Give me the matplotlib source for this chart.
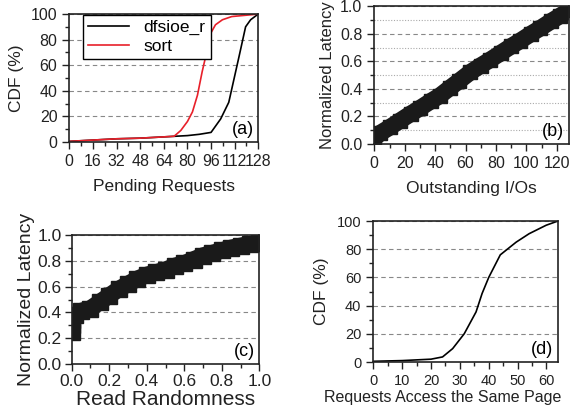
import numpy as np
import matplotlib
matplotlib.use("Agg")
import matplotlib.pyplot as plt
from matplotlib.ticker import MultipleLocator

plt.rcParams['font.family'] = ['Liberation Sans', 'DejaVu Sans']

# (a) CDF of pending requests
pend_x_dfs = [0, 16, 32, 48, 64, 80, 88, 96, 102.5, 108, 115, 119.4, 122.8, 128]
pend_y_dfs = [0.5, 1.5, 2.5, 3, 4, 5, 6, 7.5, 18, 31, 67, 90, 95.5, 100]
pend_x_sort = [0, 16, 32, 48, 64, 71, 75.5, 80, 83.4, 86.8, 90, 92.4, 95.8, 99, 103.7, 110, 124, 128]
pend_y_sort = [0.5, 1.5, 2.5, 3, 4, 4.5, 9, 16, 23.5, 36.6, 55, 67, 85, 91.6, 95.5, 98, 99.5, 100]

# (b) normalized latency vs outstanding I/Os
oio_x = [0, 4, 10, 17, 24, 30, 37, 43, 50, 56, 63, 70, 76, 83, 90, 96, 103, 109, 116, 122, 128]
oio_y = [0.04, 0.08, 0.12, 0.17, 0.22, 0.26, 0.31, 0.35, 0.41, 0.46, 0.52, 0.57, 0.61,
         0.66, 0.71, 0.75, 0.80, 0.84, 0.89, 0.93, 0.97]

# (c) normalized latency vs read randomness
rnd_x = [0, 0, 0, 0.02, 0.05, 0.1, 0.15, 0.2, 0.25, 0.3, 0.35, 0.4, 0.45, 0.5, 0.55,
         0.6, 0.65, 0.7, 0.75, 0.8, 0.85, 0.9, 0.95, 1.0]
rnd_y = [0.25, 0.30, 0.34, 0.38, 0.41, 0.43, 0.48, 0.53, 0.58, 0.62, 0.66, 0.69, 0.71,
         0.73, 0.76, 0.78, 0.81, 0.84, 0.86, 0.88, 0.90, 0.915, 0.93, 0.94]

# (d) CDF of requests accessing the same page
page_x = [0, 10, 20, 24, 27.5, 31.5, 35.6, 37.7, 40, 44, 49.5, 54, 59.9, 64]
page_y = [0.5, 1, 2, 3.6, 9.5, 20, 35.5, 48.6, 60, 76, 85, 91, 97, 100]

DARK = '#1a1a1a'
TXT = '#222222'
fig = plt.figure(figsize=(5.72, 4.2), dpi=100)

def make_ax(l, b, r, t):
    ax = fig.add_axes([l / 572, 1 - b / 420, (r - l) / 572, (b - t) / 420])
    for s in ax.spines.values():
        s.set_linewidth(1.2)
        s.set_color(TXT)
    ax.tick_params(which='both', direction='out', top=False, right=False,
                   colors=TXT, width=1.0)
    ax.tick_params(which='major', length=5)
    ax.tick_params(which='minor', length=3)
    return ax

def ygrid(ax, major, minor=None):
    for v in major:
        ax.axhline(v, color='#888888', lw=0.8, ls=(0, (4, 3)), zorder=0)
    if minor is not None:
        for v in minor:
            ax.axhline(v, color='#aaaaaa', lw=0.8, ls=(0, (1, 1.5)), zorder=0)

def band(ax, xs, ys, lw, ms):
    # thick scatter band: a wide line under square markers
    ax.plot(xs, ys, color=DARK, lw=lw, solid_capstyle='butt', solid_joinstyle='miter')
    ax.plot(xs, ys, ls='none', marker='s', ms=ms, color=DARK, mec=DARK)

# ---- (a)
ax = make_ax(69.3, 142, 258.3, 14)
ygrid(ax, [20, 40, 60, 80, 100])
ax.plot(pend_x_dfs, pend_y_dfs, color='black', lw=1.2, label='dfsioe_r')
ax.plot(pend_x_sort, pend_y_sort, color='#e8202a', lw=1.2, label='sort')
ax.set_xlim(0, 128)
ax.set_ylim(0, 100)
ax.xaxis.set_major_locator(MultipleLocator(16))
ax.xaxis.set_minor_locator(MultipleLocator(8))
ax.yaxis.set_major_locator(MultipleLocator(20))
ax.yaxis.set_minor_locator(MultipleLocator(10))
ax.tick_params(labelsize=11.5)
ax.set_xlabel('Pending Requests', fontsize=12.5, labelpad=7, color=TXT)
ax.set_ylabel('CDF (%)', fontsize=12.5, labelpad=5, color=TXT)
leg = ax.legend(loc='upper left', bbox_to_anchor=(0.07, 0.995), fontsize=12.5,
                frameon=True, fancybox=False, edgecolor='black', framealpha=1,
                borderaxespad=0, handlelength=2.4, borderpad=0.3, labelspacing=0.2)
leg.get_frame().set_linewidth(1.0)
ax.text(0.975, 0.03, '(a)', transform=ax.transAxes, ha='right', va='bottom', fontsize=13)

# ---- (b)
ax = make_ax(374.3, 144, 569, 6.3)
ygrid(ax, [0.2, 0.4, 0.6, 0.8, 1.0], [0.1, 0.3, 0.5, 0.7, 0.9])
band(ax, oio_x, oio_y, lw=12, ms=10.5)
ax.set_xlim(0, 128)
ax.set_ylim(0, 1.0)
ax.xaxis.set_major_locator(MultipleLocator(20))
ax.xaxis.set_minor_locator(MultipleLocator(10))
ax.yaxis.set_major_locator(MultipleLocator(0.2))
ax.yaxis.set_minor_locator(MultipleLocator(0.1))
ax.yaxis.set_major_formatter(lambda v, p: f'{v:.1f}')
ax.tick_params(labelsize=11.5)
ax.set_xlabel('Outstanding I/Os', fontsize=12.5, labelpad=7, color=TXT)
ax.set_ylabel('Normalized Latency', fontsize=12, labelpad=4, color=TXT)
ax.text(0.975, 0.03, '(b)', transform=ax.transAxes, ha='right', va='bottom', fontsize=13)

# ---- (c)
ax = make_ax(71.7, 364, 259.3, 235)
ygrid(ax, [0.2, 0.4, 0.6, 0.8, 1.0])
band(ax, rnd_x, rnd_y, lw=12, ms=11)
ax.set_xlim(0, 1.0)
ax.set_ylim(0, 1.0)
ax.xaxis.set_major_locator(MultipleLocator(0.2))
ax.xaxis.set_minor_locator(MultipleLocator(0.1))
ax.yaxis.set_major_locator(MultipleLocator(0.2))
ax.yaxis.set_minor_locator(MultipleLocator(0.1))
ax.xaxis.set_major_formatter(lambda v, p: f'{v:.1f}')
ax.yaxis.set_major_formatter(lambda v, p: f'{v:.1f}')
ax.tick_params(labelsize=12.5, pad=2)
ax.set_xlabel('Read Randomness', fontsize=15, labelpad=1, color=TXT)
ax.set_ylabel('Normalized Latency', fontsize=14, labelpad=2, color=TXT)
ax.text(0.975, 0.03, '(c)', transform=ax.transAxes, ha='right', va='bottom', fontsize=13)

# ---- (d)
ax = make_ax(373.3, 362, 558, 221)
ygrid(ax, [20, 40, 60, 80, 100])
ax.plot(page_x, page_y, color='black', lw=1.2)
ax.set_xlim(0, 64)
ax.set_ylim(0, 100)
ax.xaxis.set_major_locator(MultipleLocator(10))
ax.xaxis.set_minor_locator(MultipleLocator(5))
ax.yaxis.set_major_locator(MultipleLocator(20))
ax.yaxis.set_minor_locator(MultipleLocator(10))
ax.tick_params(labelsize=10.5)
ax.set_xlabel('Requests Access the Same Page', fontsize=11.5, color=TXT)
ax.xaxis.set_label_coords(0.375, -0.2)
ax.set_ylabel('CDF (%)', fontsize=12.5, labelpad=6, color=TXT)
ax.text(0.975, 0.03, '(d)', transform=ax.transAxes, ha='right', va='bottom', fontsize=13)

fig.savefig('out.png', dpi=100)
